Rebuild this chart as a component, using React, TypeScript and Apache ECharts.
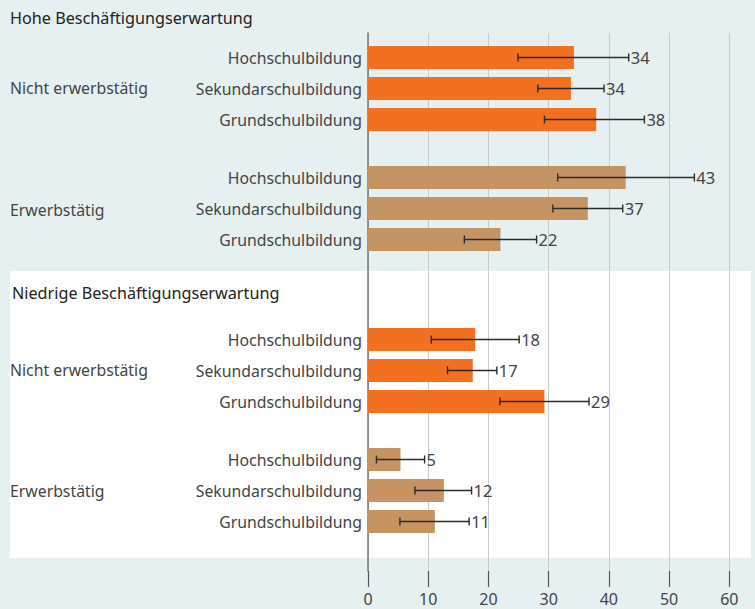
import React, { useEffect, useRef } from "react";
import * as echarts from "echarts";

const sections = ["Hohe Beschäftigungserwartung", "Niedrige Beschäftigungserwartung"];
const groups = ["Nicht erwerbstätig", "Erwerbstätig", "Nicht erwerbstätig", "Erwerbstätig"];
const categories = ["Hochschulbildung", "Sekundarschulbildung", "Grundschulbildung"];

const values = [
  [34.2, 33.7, 37.9],
  [42.8, 36.5, 22.0],
  [17.8, 17.4, 29.3],
  [5.4, 12.6, 11.1],
];
const lower = [
  [24.9, 28.2, 29.3],
  [31.5, 30.7, 16.0],
  [10.5, 13.2, 21.9],
  [1.4, 7.8, 5.3],
];
const upper = [
  [43.3, 39.2, 45.9],
  [54.2, 42.3, 28.0],
  [25.1, 21.4, 36.7],
  [9.4, 17.2, 16.8],
];
const labels = [
  ["34", "34", "38"],
  ["43", "37", "22"],
  ["18", "17", "29"],
  ["5", "12", "11"],
];
const xMin = 0;
const xMax = 60;
const xStep = 10;

const ORANGE = "#f37021";
const TAN = "#c69463";
const groupColors = [ORANGE, TAN, ORANGE, TAN];
const gridTops = [42, 162, 324, 444];
const FONT = "'Noto Sans', 'Open Sans', sans-serif";

export default function App() {
  const ref = useRef<HTMLDivElement>(null);
  useEffect(() => {
    if (!ref.current) return;
    const chart = echarts.init(ref.current, undefined, { renderer: "svg" });
    const LEFT = 368;
    const RIGHT = 25.7;

    const grids: any[] = [{ left: LEFT, right: RIGHT, top: 33, bottom: 38 }];
    const xAxes: any[] = [
      {
        gridIndex: 0,
        type: "value",
        min: xMin,
        max: xMax,
        interval: xStep,
        axisLine: { show: false },
        axisTick: { show: true, length: 16, lineStyle: { color: "#555", width: 1.2 } },
        axisLabel: { color: "#444", fontSize: 16, fontFamily: FONT, margin: 20 },
        splitLine: { show: true, lineStyle: { color: "#c8cbcc", width: 1 } },
      },
    ];
    const yAxes: any[] = [
      {
        gridIndex: 0,
        type: "value",
        min: 0,
        max: 1,
        axisLine: { show: true, lineStyle: { color: "#777", width: 1.5 } },
        axisTick: { show: false },
        axisLabel: { show: false },
        splitLine: { show: false },
      },
    ];
    const series: any[] = [];

    groups.forEach((g, gi) => {
      const idx = gi + 1;
      grids.push({ left: LEFT, right: RIGHT, top: gridTops[gi], height: 93 });
      xAxes.push({
        gridIndex: idx,
        type: "value",
        min: xMin,
        max: xMax,
        show: false,
      });
      yAxes.push({
        gridIndex: idx,
        type: "category",
        inverse: true,
        data: categories,
        axisLine: { show: false },
        axisTick: { show: false },
        splitLine: { show: false },
        axisLabel: { color: "#444", fontSize: 15.8, fontFamily: FONT, margin: 6 },
      });
      series.push({
        type: "bar",
        xAxisIndex: idx,
        yAxisIndex: idx,
        data: values[gi],
        barWidth: 23,
        itemStyle: { color: groupColors[gi] },
        z: 3,
      });
      series.push({
        type: "custom",
        xAxisIndex: idx,
        yAxisIndex: idx,
        encode: { x: [0, 1], y: 2 },
        z: 5,
        data: categories.map((_, ci) => [lower[gi][ci], upper[gi][ci], ci, labels[gi][ci]]),
        renderItem: (params: any, api: any) => {
          const lo = api.coord([api.value(0), api.value(2)]);
          const hi = api.coord([api.value(1), api.value(2)]);
          const y = lo[1];
          const cap = 4;
          const ls = { stroke: "#2b2b2b", lineWidth: 1.4 };
          const lbl = labels[gi][params.dataIndex];
          return {
            type: "group",
            children: [
              { type: "line", shape: { x1: lo[0], y1: y, x2: hi[0], y2: y }, style: ls },
              { type: "line", shape: { x1: lo[0], y1: y - cap, x2: lo[0], y2: y + cap }, style: ls },
              { type: "line", shape: { x1: hi[0], y1: y - cap, x2: hi[0], y2: y + cap }, style: ls },
              {
                type: "text",
                style: {
                  text: lbl,
                  x: hi[0] + 2,
                  y: y,
                  fill: "#444",
                  fontSize: 16.5,
                  fontFamily: FONT,
                  align: "left",
                  verticalAlign: "middle",
                },
              },
            ],
          };
        },
      });
    });

    const textEl = (text: string, x: number, y: number, size: number, color: string) => ({
      type: "text",
      z: 10,
      style: {
        text,
        x,
        y,
        fill: color,
        fontSize: size,
        fontFamily: FONT,
        align: "left",
        verticalAlign: "middle",
      },
    });

    chart.setOption({
      animation: false,
      backgroundColor: "#e7f0f1",
      grid: grids,
      xAxis: xAxes,
      yAxis: yAxes,
      series,
      graphic: [
        {
          type: "rect",
          z: -10,
          shape: { x: 10, y: 271, width: 741, height: 287 },
          style: { fill: "#ffffff" },
        },
        textEl(sections[0], 10, 18, 16.2, "#222"),
        textEl(sections[1], 12, 293, 16.2, "#222"),
        textEl(groups[0], 10, 88, 15.8, "#444"),
        textEl(groups[1], 10, 210, 15.8, "#444"),
        textEl(groups[2], 10, 370, 15.8, "#444"),
        textEl(groups[3], 10, 491, 15.8, "#444"),
      ],
    });
    return () => chart.dispose();
  }, []);
  return (
    <div
      ref={ref}
      style={{ position: "absolute", left: 0, top: 0, width: 755, height: 609 }}
    />
  );
}
